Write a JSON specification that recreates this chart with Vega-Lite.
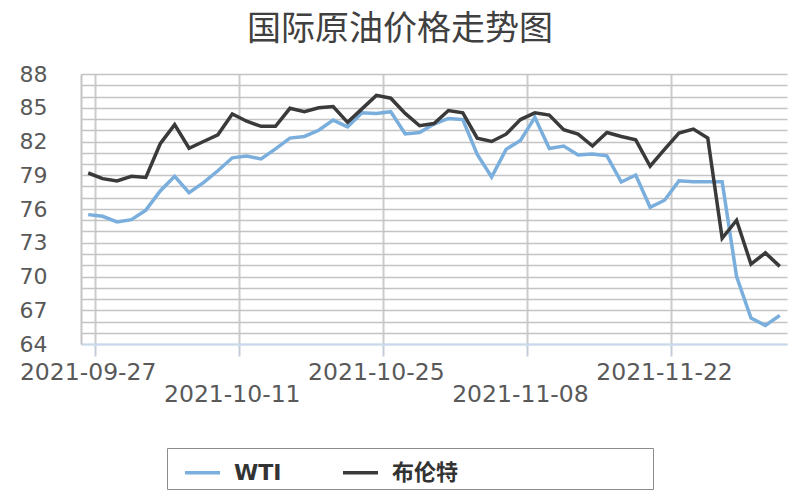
{
  "$schema": "https://vega.github.io/schema/vega-lite/v6.json",
  "width": 706,
  "height": 270,
  "autosize": {"type": "none"},
  "padding": {"left": 81, "top": 74, "right": 13, "bottom": 156},
  "background": "#ffffff",
  "title": {
    "text": "国际原油价格走势图",
    "font": "Noto Sans CJK SC",
    "fontSize": 34,
    "fontWeight": "normal",
    "color": "#404040",
    "anchor": "middle",
    "dx": -34,
    "offset": 16
  },
  "data": {
    "values": [
      {"date": "2021-09-27", "WTI": 75.5, "布伦特": 79.2},
      {"date": "2021-09-28", "WTI": 75.35, "布伦特": 78.7},
      {"date": "2021-09-29", "WTI": 74.85, "布伦特": 78.5},
      {"date": "2021-09-30", "WTI": 75.05, "布伦特": 78.9},
      {"date": "2021-10-01", "WTI": 75.9, "布伦特": 78.8},
      {"date": "2021-10-04", "WTI": 77.6, "布伦特": 81.8},
      {"date": "2021-10-05", "WTI": 78.9, "布伦特": 83.5},
      {"date": "2021-10-06", "WTI": 77.45, "布伦特": 81.4},
      {"date": "2021-10-07", "WTI": 78.35, "布伦特": 82.0},
      {"date": "2021-10-08", "WTI": 79.4, "布伦特": 82.6},
      {"date": "2021-10-11", "WTI": 80.55, "布伦特": 84.45},
      {"date": "2021-10-12", "WTI": 80.7, "布伦特": 83.8},
      {"date": "2021-10-13", "WTI": 80.45, "布伦特": 83.35},
      {"date": "2021-10-14", "WTI": 81.35, "布伦特": 83.35},
      {"date": "2021-10-15", "WTI": 82.3, "布伦特": 84.95},
      {"date": "2021-10-18", "WTI": 82.45, "布伦特": 84.65},
      {"date": "2021-10-19", "WTI": 83.0, "布伦特": 85.0},
      {"date": "2021-10-20", "WTI": 83.9, "布伦特": 85.1},
      {"date": "2021-10-21", "WTI": 83.3, "布伦特": 83.7},
      {"date": "2021-10-22", "WTI": 84.55, "布伦特": 84.9},
      {"date": "2021-10-25", "WTI": 84.5, "布伦特": 86.1},
      {"date": "2021-10-26", "WTI": 84.65, "布伦特": 85.85},
      {"date": "2021-10-27", "WTI": 82.67, "布伦特": 84.5},
      {"date": "2021-10-28", "WTI": 82.8, "布伦特": 83.4},
      {"date": "2021-10-29", "WTI": 83.55, "布伦特": 83.6},
      {"date": "2021-11-01", "WTI": 84.05, "布伦特": 84.75},
      {"date": "2021-11-02", "WTI": 83.95, "布伦特": 84.55},
      {"date": "2021-11-03", "WTI": 80.85, "布伦特": 82.3},
      {"date": "2021-11-04", "WTI": 78.85, "布伦特": 82.0},
      {"date": "2021-11-05", "WTI": 81.3, "布伦特": 82.65},
      {"date": "2021-11-08", "WTI": 82.1, "布伦特": 83.95},
      {"date": "2021-11-09", "WTI": 84.15, "布伦特": 84.55},
      {"date": "2021-11-10", "WTI": 81.38, "布伦特": 84.35},
      {"date": "2021-11-11", "WTI": 81.6, "布伦特": 83.05},
      {"date": "2021-11-12", "WTI": 80.8, "布伦特": 82.65},
      {"date": "2021-11-15", "WTI": 80.88, "布伦特": 81.6},
      {"date": "2021-11-16", "WTI": 80.73, "布伦特": 82.8},
      {"date": "2021-11-17", "WTI": 78.4, "布伦特": 82.45},
      {"date": "2021-11-18", "WTI": 79.02, "布伦特": 82.15},
      {"date": "2021-11-19", "WTI": 76.15, "布伦特": 79.8},
      {"date": "2021-11-22", "WTI": 76.78, "布伦特": 81.3},
      {"date": "2021-11-23", "WTI": 78.5, "布伦特": 82.75},
      {"date": "2021-11-24", "WTI": 78.42, "布伦特": 83.1},
      {"date": "2021-11-25", "WTI": 78.42, "布伦特": 82.3},
      {"date": "2021-11-26", "WTI": 78.42, "布伦特": 73.4},
      {"date": "2021-11-29", "WTI": 70.0, "布伦特": 75.0},
      {"date": "2021-11-30", "WTI": 66.3, "布伦特": 71.1},
      {"date": "2021-12-01", "WTI": 65.65, "布伦特": 72.1},
      {"date": "2021-12-02", "WTI": 66.55, "布伦特": 70.9}
    ]
  },
  "transform": [{"fold": ["WTI", "布伦特"], "as": ["series", "price"]}],
  "mark": {"type": "line", "strokeWidth": 3.5, "strokeJoin": "miter", "strokeCap": "butt"},
  "encoding": {
    "x": {
      "field": "date",
      "type": "ordinal",
      "bandPosition": 0.5,
      "scale": {"type": "band", "paddingInner": 0, "paddingOuter": 0},
      "axis": {
        "title": null,
        "values": ["2021-09-27", "2021-10-11", "2021-10-25", "2021-11-08", "2021-11-22"],
        "bandPosition": 1,
        "labelAngle": 0,
        "labelFont": "DejaVu Sans",
        "labelFontSize": 23.5,
        "labelColor": "#595959",
        "labelOverlap": false,
        "labelBound": false,
        "labelPadding": {"condition": {"test": "datum.value == '2021-10-11' || datum.value == '2021-11-08'", "value": 26}, "value": 4},
        "grid": true,
        "gridColor": "#cccccc",
        "gridWidth": 2,
        "domainColor": "#c9d9ec",
        "domainWidth": 2,
        "ticks": true,
        "tickColor": "#c4ccd8",
        "tickSize": 12,
        "tickWidth": 2
      }
    },
    "y": {
      "field": "price",
      "type": "quantitative",
      "scale": {"domain": [64, 88], "nice": false, "zero": false},
      "axis": {
        "title": null,
        "values": [64, 65, 66, 67, 68, 69, 70, 71, 72, 73, 74, 75, 76, 77, 78, 79, 80, 81, 82, 83, 84, 85, 86, 87, 88],
        "labelExpr": "(datum.value - 64) % 3 === 0 ? datum.label : ''",
        "labelFont": "DejaVu Sans",
        "labelFontSize": 22,
        "labelColor": "#595959",
        "labelPadding": 34,
        "labelOverlap": false,
        "ticks": false,
        "grid": true,
        "gridColor": "#c4c4c4",
        "gridWidth": 1.7,
        "domainColor": "#c4c4c4",
        "domainWidth": 2
      }
    },
    "color": {
      "field": "series",
      "type": "nominal",
      "scale": {"domain": ["WTI", "布伦特"], "range": ["#7aaedc", "#3a3a3a"]},
      "legend": {
        "title": null,
        "orient": "none",
        "legendX": 86,
        "legendY": 374,
        "direction": "horizontal",
        "strokeColor": "#8c8c8c",
        "padding": 5,
        "symbolType": "stroke",
        "symbolSize": 1225,
        "symbolStrokeWidth": 3.5,
        "symbolOffset": 11,
        "labelExpr": "datum.label == '布伦特' ? datum.label + '\u2800\u2800\u2800\u2800\u2800\u2800\u2800\u2800\u2800\u2800\u2800' : datum.label",
        "labelFont": "DejaVu Sans, Noto Sans CJK SC",
        "labelFontSize": 22,
        "labelFontWeight": "bold",
        "labelColor": "#333333",
        "labelOffset": 12,
        "labelLimit": 400,
        "columnPadding": 48
      }
    }
  },
  "config": {"view": {"stroke": null}}
}
